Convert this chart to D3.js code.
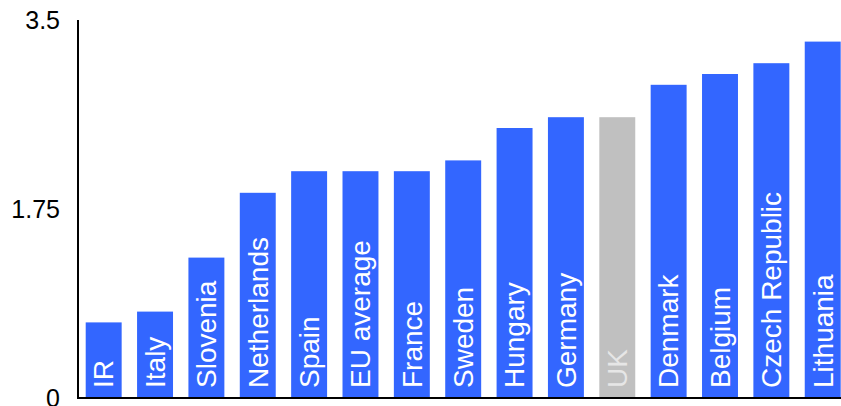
<!DOCTYPE html>
<html>
<head>
<meta charset="utf-8">
<script src="https://cdn.jsdelivr.net/npm/d3@7"></script>
<style>
html,body{margin:0;padding:0;background:#fff;}
svg{display:block;font-family:"Liberation Sans",Arial,Helvetica,sans-serif;}
</style>
</head>
<body>
<svg id="chart" width="841" height="406"></svg>
<script>
const categories = ["IR","Italy","Slovenia","Netherlands","Spain","EU average","France","Sweden","Hungary","Germany","UK","Denmark","Belgium","Czech Republic","Lithuania"];
const values = [0.7,0.8,1.3,1.9,2.1,2.1,2.1,2.2,2.5,2.6,2.6,2.9,3.0,3.1,3.3];
const highlight = ["UK"];
const yTicks = [0,1.75,3.5];

const svg = d3.select("#chart");
const x0 = 78, yTop = 20, yBottom = 398;

const x = d3.scaleBand().domain(categories).range([x0, x0 + 15*51.36]).paddingInner(0.3).paddingOuter(0.15);
const y = d3.scaleLinear().domain([0,3.5]).range([yBottom, yTop]);

// bars
svg.append("g").selectAll("rect").data(categories).join("rect")
  .attr("x", d => x(d))
  .attr("width", x.bandwidth())
  .attr("y", (d,i) => y(values[i]))
  .attr("height", (d,i) => y(0) - y(values[i]))
  .attr("fill", d => highlight.includes(d) ? "#c0c0c0" : "#3366ff");

// labels inside bars
svg.append("g").selectAll("text").data(categories).join("text")
  .attr("transform", d => `translate(${x(d) + x.bandwidth()/2},${yBottom - 10}) rotate(-90)`)
  .attr("dy", "0.35em")
  .attr("fill", d => highlight.includes(d) ? "#e6e6e6" : "#ffffff")
  .attr("font-size", 28)
  .text(d => d);

// y axis
const yAxis = d3.axisLeft(y).tickValues(yTicks).tickSize(0).tickPadding(18).tickFormat(d => String(d));
const gy = svg.append("g").attr("transform", `translate(${x0},0)`).call(yAxis);
gy.select(".domain").attr("stroke", "#000").attr("stroke-width", 2).attr("d", `M0,${yTop}V${yBottom}`);
gy.selectAll("text").attr("font-size", 25).attr("fill", "#000").attr("font-family", "Liberation Sans, Arial, sans-serif");

// baseline
svg.append("line")
  .attr("x1", x0 - 1).attr("x2", 841)
  .attr("y1", y(0)).attr("y2", y(0))
  .attr("stroke", "#000").attr("stroke-width", 2);
</script>
</body>
</html>
